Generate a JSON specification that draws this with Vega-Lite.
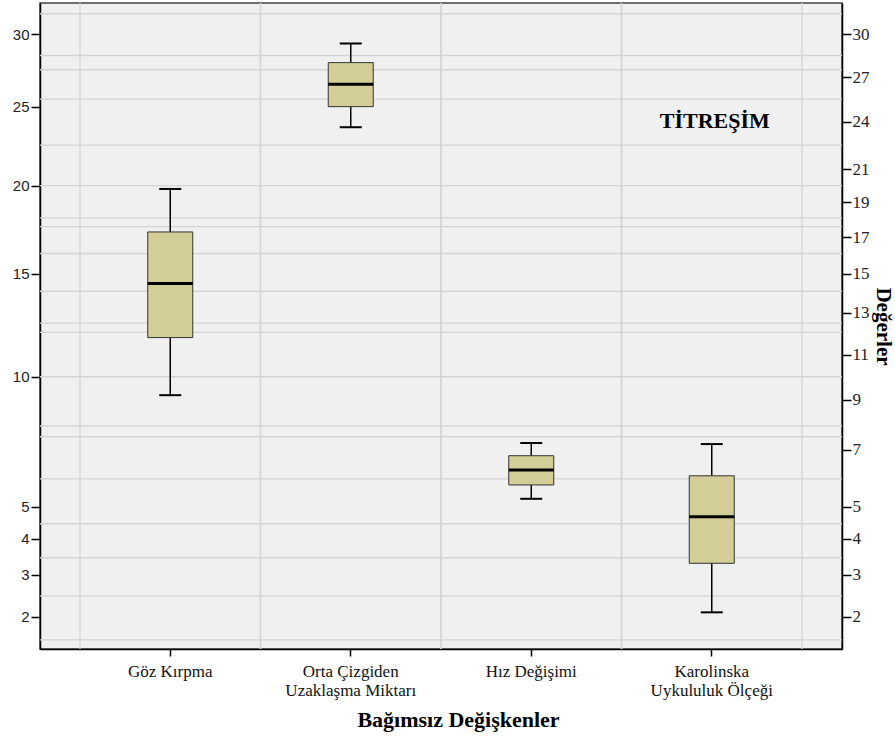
{
  "$schema": "https://vega.github.io/schema/vega-lite/v6.json",
  "width": 802,
  "height": 646,
  "autosize": "none",
  "padding": {"left": 40, "top": 3, "right": 53, "bottom": 91},
  "background": "white",
  "config": {
    "view": {"fill": "#F0F0F0", "stroke": "#444444", "strokeWidth": 1.5},
    "axis": {"domainColor": "#000000", "domainWidth": 1.5, "tickColor": "#000000", "tickWidth": 1.5, "labelColor": "#111111", "titleColor": "#000000", "grid": false},
    "axisX": {"title": "Bağımsız Değişkenler", "labelAngle": 0, "labelFont": "Liberation Serif", "labelFontSize": 17,
              "labelLineHeight": 19, "labelPadding": 7, "tickSize": 7, "titleFont": "Liberation Serif", "titleFontSize": 22,
              "titleFontWeight": "bold", "titlePadding": 11, "titleX": 418}
  },
  "datasets": {
    "kutular": [
      {"kategori": "Göz Kırpma", "min": 9.2, "q1": 11.8, "medyan": 14.5, "q3": 17.3, "max": 19.8},
      {"kategori": "Orta Çizgiden Uzaklaşma Miktarı", "min": 23.65, "q1": 25.0, "medyan": 26.5, "q3": 28.0, "max": 29.35},
      {"kategori": "Hız Değişimi", "min": 5.26, "q1": 5.73, "medyan": 6.26, "q3": 6.78, "max": 7.26},
      {"kategori": "Karolinska Uykululuk Ölçeği", "min": 2.1, "q1": 3.31, "medyan": 4.68, "q3": 6.05, "max": 7.22}
    ],
    "izgara": [
      {"deger": 31.5}, {"deger": 28.5}, {"deger": 27.5}, {"deger": 25.5}, {"deger": 22.5},
      {"deger": 20}, {"deger": 18.1}, {"deger": 17.6}, {"deger": 16.1}, {"deger": 14.1},
      {"deger": 12.5}, {"deger": 12.05}, {"deger": 10}, {"deger": 7.93}, {"deger": 7.5},
      {"deger": 5.94}, {"deger": 4.46}, {"deger": 3.46}, {"deger": 2.48}, {"deger": 1.53}
    ],
    "etiket": [
      {"kategori": "Karolinska Uykululuk Ölçeği", "deger": 23.6, "metin": "TİTREŞİM"}
    ]
  },
  "layer": [
    {
      "data": {"name": "izgara"},
      "mark": {"type": "rule", "color": "#D4D4D4", "strokeWidth": 1.4},
      "encoding": {
        "y": {"field": "deger", "type": "quantitative", "axis": null,
              "scale": {"type": "pow", "exponent": 0.557, "domain": [1.358, 32.3], "nice": false, "zero": false}}
      }
    },
    {
      "data": {"name": "kutular"},
      "mark": {"type": "rule", "color": "#D4D4D4", "strokeWidth": 1.4},
      "encoding": {
        "x": {"field": "kategori", "type": "nominal", "sort": null, "bandPosition": 0, "title": "Bağımsız Değişkenler",
              "scale": {"type": "band", "paddingInner": 0, "paddingOuter": 0.2216},
              "axis": {"labelExpr": "datum.label == 'Orta Çizgiden Uzaklaşma Miktarı' ? ['Orta Çizgiden', 'Uzaklaşma Miktarı'] : datum.label == 'Karolinska Uykululuk Ölçeği' ? ['Karolinska', 'Uykululuk Ölçeği'] : datum.label"}}
      }
    },
    {
      "data": {"name": "kutular"},
      "mark": {"type": "rule", "color": "#D4D4D4", "strokeWidth": 1.4},
      "encoding": {
        "x": {"field": "kategori", "type": "nominal", "sort": null, "bandPosition": 1, "title": "Bağımsız Değişkenler",
              "scale": {"type": "band", "paddingInner": 0, "paddingOuter": 0.2216},
              "axis": {"labelExpr": "datum.label == 'Orta Çizgiden Uzaklaşma Miktarı' ? ['Orta Çizgiden', 'Uzaklaşma Miktarı'] : datum.label == 'Karolinska Uykululuk Ölçeği' ? ['Karolinska', 'Uykululuk Ölçeği'] : datum.label"}}
      }
    },
    {
      "data": {"name": "kutular"},
      "mark": {"type": "rule", "color": "#000000", "strokeWidth": 1.5},
      "encoding": {
        "x": {"field": "kategori", "type": "nominal", "sort": null, "title": "Bağımsız Değişkenler",
              "scale": {"type": "band", "paddingInner": 0, "paddingOuter": 0.2216},
              "axis": {"labelExpr": "datum.label == 'Orta Çizgiden Uzaklaşma Miktarı' ? ['Orta Çizgiden', 'Uzaklaşma Miktarı'] : datum.label == 'Karolinska Uykululuk Ölçeği' ? ['Karolinska', 'Uykululuk Ölçeği'] : datum.label"}},
        "y": {"field": "min", "type": "quantitative",
              "scale": {"type": "pow", "exponent": 0.557, "domain": [1.358, 32.3], "nice": false, "zero": false},
              "axis": {"orient": "left", "title": null, "values": [2, 3, 4, 5, 10, 15, 20, 25, 30], "labelFont": "Liberation Sans",
                       "labelFontSize": 15, "labelColor": "#222222", "tickSize": 9, "labelPadding": 2}},
        "y2": {"field": "max"}
      }
    },
    {
      "data": {"name": "kutular"},
      "mark": {"type": "bar", "size": 45, "fill": "#D3CE97", "stroke": "#333333", "strokeWidth": 1},
      "encoding": {
        "x": {"field": "kategori", "type": "nominal", "sort": null, "title": "Bağımsız Değişkenler",
              "scale": {"type": "band", "paddingInner": 0, "paddingOuter": 0.2216},
              "axis": {"labelExpr": "datum.label == 'Orta Çizgiden Uzaklaşma Miktarı' ? ['Orta Çizgiden', 'Uzaklaşma Miktarı'] : datum.label == 'Karolinska Uykululuk Ölçeği' ? ['Karolinska', 'Uykululuk Ölçeği'] : datum.label"}},
        "y": {"field": "q1", "type": "quantitative", "axis": null,
              "scale": {"type": "pow", "exponent": 0.557, "domain": [1.358, 32.3], "nice": false, "zero": false}},
        "y2": {"field": "q3"}
      }
    },
    {
      "data": {"name": "kutular"},
      "mark": {"type": "tick", "size": 45, "thickness": 3, "color": "#000000", "opacity": 1},
      "encoding": {
        "x": {"field": "kategori", "type": "nominal", "sort": null, "title": "Bağımsız Değişkenler",
              "scale": {"type": "band", "paddingInner": 0, "paddingOuter": 0.2216},
              "axis": {"labelExpr": "datum.label == 'Orta Çizgiden Uzaklaşma Miktarı' ? ['Orta Çizgiden', 'Uzaklaşma Miktarı'] : datum.label == 'Karolinska Uykululuk Ölçeği' ? ['Karolinska', 'Uykululuk Ölçeği'] : datum.label"}},
        "y": {"field": "medyan", "type": "quantitative",
              "scale": {"type": "pow", "exponent": 0.557, "domain": [1.358, 32.3], "nice": false, "zero": false},
              "axis": {"orient": "right", "title": "Değerler", "values": [2, 3, 4, 5, 7, 9, 11, 13, 15, 17, 19, 21, 24, 27, 30],
                       "labelFont": "Liberation Serif", "labelFontSize": 17, "labelColor": "#222222", "tickSize": 9, "labelPadding": 1,
                       "titleFont": "Liberation Serif", "titleFontSize": 21, "titleFontWeight": "bold", "titlePadding": 3}}
      }
    },
    {
      "data": {"name": "kutular"},
      "mark": {"type": "tick", "size": 22, "thickness": 2, "color": "#000000", "opacity": 1},
      "encoding": {
        "x": {"field": "kategori", "type": "nominal", "sort": null, "title": "Bağımsız Değişkenler",
              "scale": {"type": "band", "paddingInner": 0, "paddingOuter": 0.2216},
              "axis": {"labelExpr": "datum.label == 'Orta Çizgiden Uzaklaşma Miktarı' ? ['Orta Çizgiden', 'Uzaklaşma Miktarı'] : datum.label == 'Karolinska Uykululuk Ölçeği' ? ['Karolinska', 'Uykululuk Ölçeği'] : datum.label"}},
        "y": {"field": "min", "type": "quantitative", "axis": null,
              "scale": {"type": "pow", "exponent": 0.557, "domain": [1.358, 32.3], "nice": false, "zero": false}}
      }
    },
    {
      "data": {"name": "kutular"},
      "mark": {"type": "tick", "size": 22, "thickness": 2, "color": "#000000", "opacity": 1},
      "encoding": {
        "x": {"field": "kategori", "type": "nominal", "sort": null, "title": "Bağımsız Değişkenler",
              "scale": {"type": "band", "paddingInner": 0, "paddingOuter": 0.2216},
              "axis": {"labelExpr": "datum.label == 'Orta Çizgiden Uzaklaşma Miktarı' ? ['Orta Çizgiden', 'Uzaklaşma Miktarı'] : datum.label == 'Karolinska Uykululuk Ölçeği' ? ['Karolinska', 'Uykululuk Ölçeği'] : datum.label"}},
        "y": {"field": "max", "type": "quantitative", "axis": null,
              "scale": {"type": "pow", "exponent": 0.557, "domain": [1.358, 32.3], "nice": false, "zero": false}}
      }
    },
    {
      "data": {"name": "etiket"},
      "mark": {"type": "text", "font": "Liberation Serif", "fontSize": 22, "fontWeight": "bold", "color": "#000000", "align": "center", "baseline": "alphabetic", "dx": 3},
      "encoding": {
        "x": {"field": "kategori", "type": "nominal", "sort": null, "title": "Bağımsız Değişkenler",
              "scale": {"type": "band", "paddingInner": 0, "paddingOuter": 0.2216},
              "axis": {"labelExpr": "datum.label == 'Orta Çizgiden Uzaklaşma Miktarı' ? ['Orta Çizgiden', 'Uzaklaşma Miktarı'] : datum.label == 'Karolinska Uykululuk Ölçeği' ? ['Karolinska', 'Uykululuk Ölçeği'] : datum.label"}},
        "y": {"field": "deger", "type": "quantitative", "axis": null,
              "scale": {"type": "pow", "exponent": 0.557, "domain": [1.358, 32.3], "nice": false, "zero": false}},
        "text": {"field": "metin"}
      }
    }
  ],
  "resolve": {"axis": {"y": "independent"}}
}
